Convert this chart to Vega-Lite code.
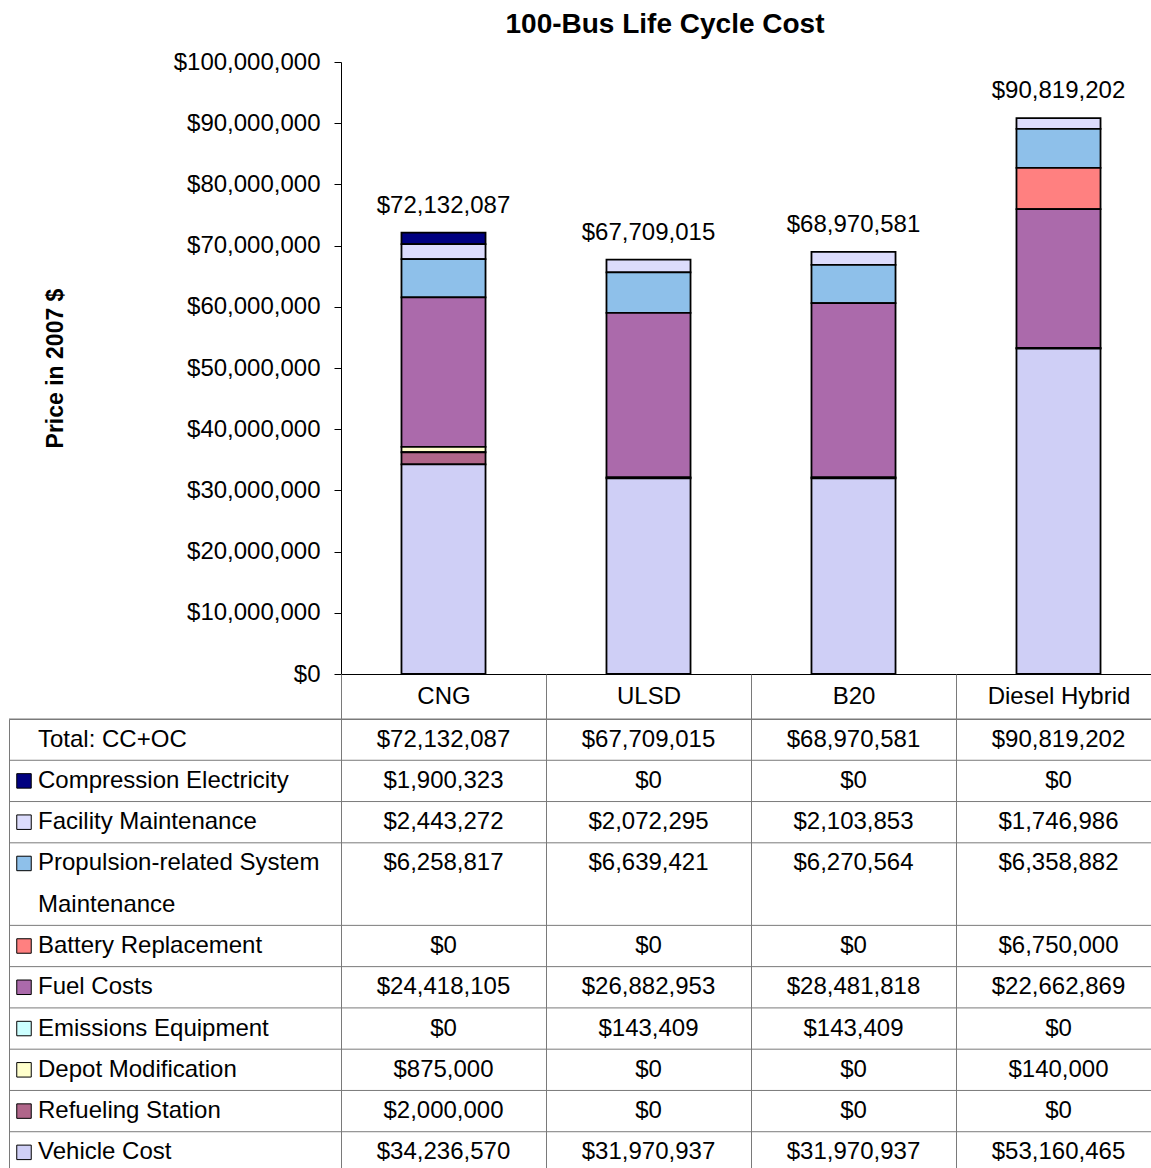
{
  "$schema": "https://vega.github.io/schema/vega-lite/v6.json",
  "padding": {"left": 8, "top": 11, "right": -10, "bottom": -6},
  "config": {
    "font": "Liberation Sans",
    "view": {"stroke": null},
    "axis": {"labelColor": "black", "titleColor": "black"}
  },
  "datasets": {
    "costs": [
      {"fuel": "CNG", "cost": "Compression Electricity", "value": 1900323},
      {"fuel": "CNG", "cost": "Facility Maintenance", "value": 2443272},
      {"fuel": "CNG", "cost": "Propulsion-related System Maintenance", "value": 6258817},
      {"fuel": "CNG", "cost": "Battery Replacement", "value": 0},
      {"fuel": "CNG", "cost": "Fuel Costs", "value": 24418105},
      {"fuel": "CNG", "cost": "Emissions Equipment", "value": 0},
      {"fuel": "CNG", "cost": "Depot Modification", "value": 875000},
      {"fuel": "CNG", "cost": "Refueling Station", "value": 2000000},
      {"fuel": "CNG", "cost": "Vehicle Cost", "value": 34236570},
      {"fuel": "ULSD", "cost": "Compression Electricity", "value": 0},
      {"fuel": "ULSD", "cost": "Facility Maintenance", "value": 2072295},
      {"fuel": "ULSD", "cost": "Propulsion-related System Maintenance", "value": 6639421},
      {"fuel": "ULSD", "cost": "Battery Replacement", "value": 0},
      {"fuel": "ULSD", "cost": "Fuel Costs", "value": 26882953},
      {"fuel": "ULSD", "cost": "Emissions Equipment", "value": 143409},
      {"fuel": "ULSD", "cost": "Depot Modification", "value": 0},
      {"fuel": "ULSD", "cost": "Refueling Station", "value": 0},
      {"fuel": "ULSD", "cost": "Vehicle Cost", "value": 31970937},
      {"fuel": "B20", "cost": "Compression Electricity", "value": 0},
      {"fuel": "B20", "cost": "Facility Maintenance", "value": 2103853},
      {"fuel": "B20", "cost": "Propulsion-related System Maintenance", "value": 6270564},
      {"fuel": "B20", "cost": "Battery Replacement", "value": 0},
      {"fuel": "B20", "cost": "Fuel Costs", "value": 28481818},
      {"fuel": "B20", "cost": "Emissions Equipment", "value": 143409},
      {"fuel": "B20", "cost": "Depot Modification", "value": 0},
      {"fuel": "B20", "cost": "Refueling Station", "value": 0},
      {"fuel": "B20", "cost": "Vehicle Cost", "value": 31970937},
      {"fuel": "Diesel Hybrid", "cost": "Compression Electricity", "value": 0},
      {"fuel": "Diesel Hybrid", "cost": "Facility Maintenance", "value": 1746986},
      {"fuel": "Diesel Hybrid", "cost": "Propulsion-related System Maintenance", "value": 6358882},
      {"fuel": "Diesel Hybrid", "cost": "Battery Replacement", "value": 6750000},
      {"fuel": "Diesel Hybrid", "cost": "Fuel Costs", "value": 22662869},
      {"fuel": "Diesel Hybrid", "cost": "Emissions Equipment", "value": 0},
      {"fuel": "Diesel Hybrid", "cost": "Depot Modification", "value": 140000},
      {"fuel": "Diesel Hybrid", "cost": "Refueling Station", "value": 0},
      {"fuel": "Diesel Hybrid", "cost": "Vehicle Cost", "value": 53160465}
    ],
    "rows": [
      {"row": "Total: CC+OC", "text": "Total: CC+OC"},
      {"row": "Compression Electricity", "text": "Compression Electricity"},
      {"row": "Facility Maintenance", "text": "Facility Maintenance"},
      {"row": "Propulsion-related System Maintenance", "text": "Propulsion-related System"},
      {"row": "Maintenance", "text": "Maintenance"},
      {"row": "Battery Replacement", "text": "Battery Replacement"},
      {"row": "Fuel Costs", "text": "Fuel Costs"},
      {"row": "Emissions Equipment", "text": "Emissions Equipment"},
      {"row": "Depot Modification", "text": "Depot Modification"},
      {"row": "Refueling Station", "text": "Refueling Station"},
      {"row": "Vehicle Cost", "text": "Vehicle Cost"}
    ]
  },
  "columns": 2,
  "spacing": {"row": 45, "column": 0},
  "bounds": "flush",
  "concat": [
    {
      "width": 332,
      "height": 612,
      "data": {"values": []},
      "mark": "text",
      "encoding": {}
    },
    {
      "width": 820,
      "height": 612,
      "data": {"name": "costs"},
      "title": {
        "text": "100-Bus Life Cycle Cost",
        "fontSize": 28,
        "fontWeight": "bold",
        "color": "black",
        "anchor": "middle",
        "frame": "group",
        "dx": -86,
        "baseline": "alphabetic",
        "offset": -11
      },
      "encoding": {
        "x": {
          "field": "fuel",
          "type": "nominal",
          "sort": ["CNG", "ULSD", "B20", "Diesel Hybrid"],
          "scale": {"paddingInner": 0.59, "paddingOuter": 0.295},
          "axis": {"title": null, "labels": false, "ticks": false, "domainColor": "black", "domainWidth": 1}
        }
      },
      "layer": [
        {
          "transform": [
            {"filter": "datum.value > 0"},
            {"calculate": "indexof(['Vehicle Cost', 'Refueling Station', 'Depot Modification', 'Emissions Equipment', 'Fuel Costs', 'Battery Replacement', 'Propulsion-related System Maintenance', 'Facility Maintenance', 'Compression Electricity'], datum.cost)", "as": "stackRank"}
          ],
          "mark": {"type": "bar", "stroke": "black", "strokeWidth": 1.8},
          "encoding": {
            "y": {
              "field": "value",
              "type": "quantitative",
              "scale": {"domain": [0, 100000000], "nice": false},
              "axis": {
                "title": "Price in 2007 $",
                "titleFontSize": 23,
                "titleFontWeight": "bold",
                "titlePadding": 106,
                "tickCount": 10,
                "format": "$,.0f",
                "labelFontSize": 24,
                "labelPadding": 14,
                "tickSize": 7,
                "tickColor": "black",
                "domainColor": "black",
                "grid": false
              }
            },
            "order": {"field": "stackRank", "type": "quantitative", "sort": "ascending"},
            "color": {
              "field": "cost",
              "type": "nominal",
              "scale": {
                "domain": ["Vehicle Cost", "Refueling Station", "Depot Modification", "Emissions Equipment", "Fuel Costs", "Battery Replacement", "Propulsion-related System Maintenance", "Facility Maintenance", "Compression Electricity"],
                "range": ["#cfcff6", "#b0668a", "#ffffcc", "#ccffff", "#ab6aab", "#ff8080", "#8ec0ea", "#dcdcfc", "#000080"]
              },
              "legend": null
            }
          }
        },
        {
          "transform": [
            {"aggregate": [{"op": "sum", "field": "value", "as": "total"}], "groupby": ["fuel"]}
          ],
          "mark": {"type": "text", "dy": -20, "baseline": "alphabetic", "fontSize": 24, "color": "black"},
          "encoding": {
            "y": {"field": "total", "type": "quantitative"},
            "text": {"field": "total", "type": "quantitative", "format": "$,.0f"}
          }
        }
      ]
    },
    {
      "width": 332,
      "height": 454,
      "view": {"stroke": "#7a7a7a"},
      "data": {"name": "rows"},
      "encoding": {
        "y": {
          "field": "row",
          "type": "nominal",
          "sort": null,
          "scale": {
            "type": "band",
            "domain": ["Total: CC+OC", "Compression Electricity", "Facility Maintenance", "Propulsion-related System Maintenance", "Maintenance", "Battery Replacement", "Fuel Costs", "Emissions Equipment", "Depot Modification", "Refueling Station", "Vehicle Cost"],
            "paddingInner": 0,
            "paddingOuter": 0
          },
          "axis": null
        }
      },
      "layer": [
        {
          "transform": [{"filter": "datum.row !== 'Maintenance'"}],
          "mark": {"type": "rule", "color": "#7a7a7a", "strokeWidth": 1},
          "encoding": {
            "y": {"field": "row", "type": "nominal", "bandPosition": 0}
          }
        },
        {
          "transform": [{"filter": "datum.row !== 'Maintenance' && datum.row !== 'Total: CC+OC'"}],
          "mark": {"type": "square", "size": 210, "stroke": "black", "strokeWidth": 1, "opacity": 1, "filled": true},
          "encoding": {
            "x": {"value": 15},
            "color": {
              "field": "row",
              "type": "nominal",
              "scale": {
                "domain": ["Vehicle Cost", "Refueling Station", "Depot Modification", "Emissions Equipment", "Fuel Costs", "Battery Replacement", "Propulsion-related System Maintenance", "Facility Maintenance", "Compression Electricity"],
                "range": ["#cfcff6", "#b0668a", "#ffffcc", "#ccffff", "#ab6aab", "#ff8080", "#8ec0ea", "#dcdcfc", "#000080"]
              },
              "legend": null
            }
          }
        },
        {
          "mark": {"type": "text", "align": "left", "baseline": "middle", "fontSize": 24, "color": "black"},
          "encoding": {
            "x": {"value": 29},
            "text": {"field": "text", "type": "nominal"}
          }
        }
      ]
    },
    {
      "width": 820,
      "height": 454,
      "view": {"stroke": "#7a7a7a"},
      "data": {"name": "costs"},
      "layer": [
        {
          "data": {"name": "rows"},
          "transform": [{"filter": "datum.row !== 'Maintenance'"}],
          "mark": {"type": "rule", "color": "#7a7a7a", "strokeWidth": 1},
          "encoding": {
            "y": {
              "field": "row",
              "type": "nominal",
              "bandPosition": 0,
              "sort": null,
              "scale": {
                "type": "band",
                "domain": ["Total: CC+OC", "Compression Electricity", "Facility Maintenance", "Propulsion-related System Maintenance", "Maintenance", "Battery Replacement", "Fuel Costs", "Emissions Equipment", "Depot Modification", "Refueling Station", "Vehicle Cost"],
                "paddingInner": 0,
                "paddingOuter": 0
              },
              "axis": null
            }
          }
        },
        {
          "mark": {"type": "text", "align": "center", "baseline": "middle", "fontSize": 24, "color": "black"},
          "encoding": {
            "x": {
              "field": "fuel",
              "type": "nominal",
              "sort": ["CNG", "ULSD", "B20", "Diesel Hybrid"],
              "scale": {"type": "band", "paddingInner": 0, "paddingOuter": 0},
              "axis": {
                "orient": "top",
                "title": null,
                "tickBand": "extent",
                "tickSize": 45,
                "tickColor": "#7a7a7a",
                "grid": true,
                "gridColor": "#7a7a7a",
                "domain": false,
                "labelFontSize": 24,
                "labelColor": "black",
                "labelPadding": -34,
                "labelAngle": 0
              }
            },
            "y": {"field": "cost", "type": "nominal", "sort": null},
            "text": {"field": "value", "type": "quantitative", "format": "$,.0f"}
          }
        },
        {
          "transform": [
            {"aggregate": [{"op": "sum", "field": "value", "as": "total"}], "groupby": ["fuel"]}
          ],
          "mark": {"type": "text", "align": "center", "baseline": "middle", "fontSize": 24, "color": "black"},
          "encoding": {
            "x": {"field": "fuel", "type": "nominal", "sort": ["CNG", "ULSD", "B20", "Diesel Hybrid"]},
            "y": {"datum": "Total: CC+OC", "type": "nominal"},
            "text": {"field": "total", "type": "quantitative", "format": "$,.0f"}
          }
        }
      ]
    }
  ]
}
